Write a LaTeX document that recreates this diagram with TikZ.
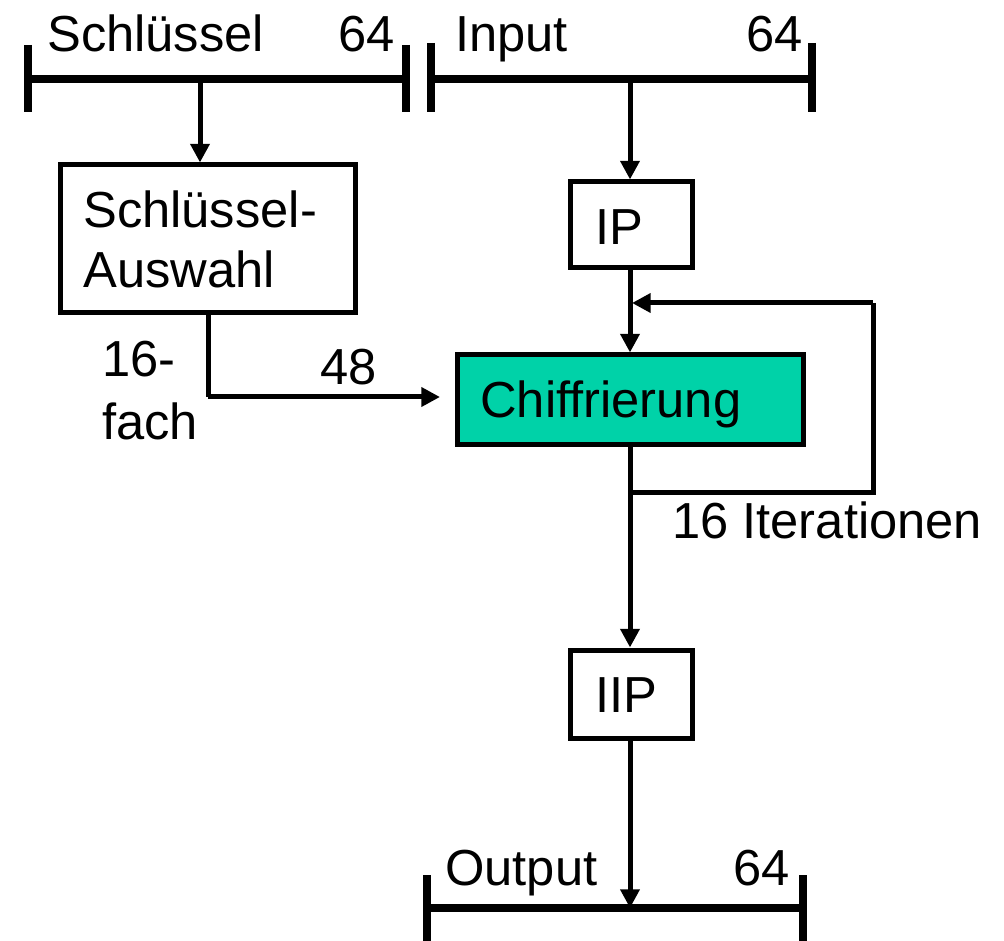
\documentclass[tikz,border=0pt]{standalone}
\usepackage{fontspec}
\setmainfont{Liberation Sans}
\usetikzlibrary{arrows.meta}
\definecolor{tealfill}{RGB}{0,210,168}
\begin{document}
\begin{tikzpicture}[x=0.75pt,y=-0.75pt,
  bar/.style={line width=6pt},
  wire/.style={line width=3.75pt},
  arr/.style={wire,-{Triangle[length=14pt,width=14pt]}},
  box/.style={draw,line width=3.75pt,inner sep=0pt},
  txt/.style={font=\fontsize{38}{45}\selectfont,inner sep=0pt}]
\useasboundingbox (0,0) rectangle (1004,941);
% bars
\coordinate (kL) at (28,79);
\coordinate (kR) at (406,79);
\coordinate (kM) at (200,79);
\coordinate (iL) at (431,79);
\coordinate (iR) at (812,79);
\coordinate (iM) at (630,79);
\coordinate (oL) at (427,908);
\coordinate (oR) at (803,908);
\coordinate (oM) at (630,908);
\draw[bar] (kL) -- (kR);
\draw[bar] (28,45) -- (28,112);
\draw[bar] (406,45) -- (406,112);
\draw[bar] (iL) -- (iR);
\draw[bar] (431,43) -- (431,112);
\draw[bar] (812,43) -- (812,112);
\draw[bar] (oL) -- (oR);
\draw[bar] (427,875) -- (427,941);
\draw[bar] (803,875) -- (803,941);
% bar labels
\node[txt,anchor=base west] (tkey) at (47,52) {Schlüssel};
\node[txt,anchor=base east] (tk64) at (395,52) {64};
\node[txt,anchor=base west] (tin) at (455,52) {Input};
\node[txt,anchor=base east] (ti64) at (803,52) {64};
\node[txt,anchor=base west] (tout) at (445,885) {Output};
\node[txt,anchor=base east] (to64) at (790,885) {64};
% boxes
\node[box,minimum width=295*0.75pt,minimum height=148*0.75pt] (sa) at (207.5,239) {};
\node[txt,anchor=base west,align=left] (tsa1) at (83,228) {Schlüssel-};
\node[txt,anchor=base west] (tsa2) at (83,288) {Auswahl};
\node[box,minimum width=122*0.75pt,minimum height=86*0.75pt] (ip) at (631,225) {};
\node[txt,anchor=base west] (tip) at (595,245) {IP};
\node[box,fill=tealfill,minimum width=346*0.75pt,minimum height=90*0.75pt] (ch) at (630,400) {};
\node[txt,anchor=base west] (tch) at (480,417) {Chiffrierung};
\node[box,minimum width=122*0.75pt,minimum height=88*0.75pt] (iip) at (631,694) {};
\node[txt,anchor=base west] (tiip) at (595,712) {IIP};
% connectors
\draw[arr] (kM) -- (kM |- sa.north);
\draw[arr] (iM) -- (iM |- ip.north);
\draw[arr] (iM |- ip.south) -- (iM |- ch.north);
\coordinate (lb) at (630,492);
\coordinate (lbr) at (873,492);
\coordinate (ltr) at (873,303);
\coordinate (lt) at (632,303);
\draw[wire] (lb) -- (lbr) -- (ltr);
\draw[arr] (ltr) -- (lt);
\draw[arr] (iM |- ch.south) -- (iM |- iip.north);
\draw[arr] (iM |- iip.south) -- (oM);
\coordinate (ka) at (208,397);
\draw[wire] (208,313) -- (ka);
\draw[arr] (ka) -- (440,397);
% labels
\node[txt,anchor=base west] (t16) at (102,377) {16-};
\node[txt,anchor=base west] (tfach) at (102,440) {fach};
\node[txt,anchor=base west] (t48) at (320,385) {48};
\node[txt,anchor=base west] (titer) at (672,538) {16 Iterationen};
\end{tikzpicture}
\end{document}
